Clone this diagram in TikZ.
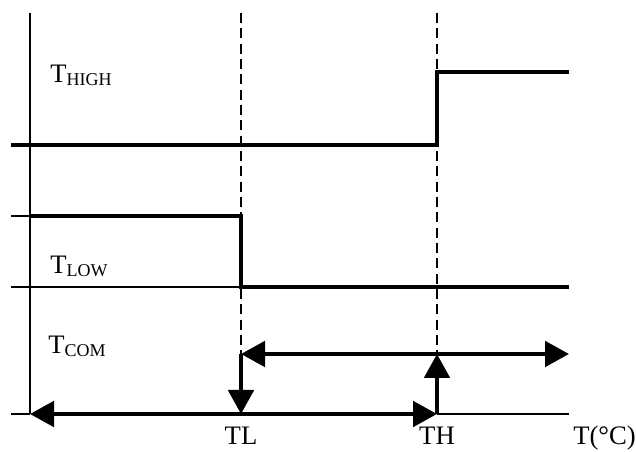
\documentclass[tikz,border=0pt]{standalone}
\usepackage{fontspec}
\setmainfont{Liberation Serif}
\usetikzlibrary{arrows.meta,calc}

\tikzset{
  level/.style={line width=3pt, line join=miter},
  guide/.style={line width=0.9pt},
  marker/.style={line width=0.9pt, dash pattern=on 7.5pt off 4pt},
  flow/.style={line width=3pt, -{Triangle[length=18pt,width=19pt]}},
  twoway/.style={line width=3pt, {Triangle[length=18pt,width=19pt]}-{Triangle[length=18pt,width=19pt]}},
  lbl/.style={font=\fontsize{20}{24}\selectfont, inner sep=0pt}
}
\newcommand{\subtxt}[1]{\raisebox{-2pt}{\fontsize{13.5}{14}\selectfont #1}}

\begin{document}
\begin{tikzpicture}[x=0.75pt,y=-0.75pt]
\useasboundingbox (0,0) rectangle (636,452);

% axis and reference lines
\coordinate (top) at (30,13);
\coordinate (org) at (30,414);
\coordinate (tick) at (11,414);
\coordinate (end) at (569,414);
\coordinate (tlTop) at (241,13);
\coordinate (thTop) at (437,13);
\coordinate (tlCom) at (241,354);
\coordinate (thCom) at (437,354);
\coordinate (comEnd) at (569,354);
\coordinate (tlBot) at (241,414);
\coordinate (thBot) at (437,414);

\draw[guide] (top) -- (org);
\draw[guide] (tick) -- (org);
\draw[guide] (thBot) -- (end);
\draw[guide] (11,216) -- (30,216);
\draw[guide] (11,287) -- (tlBot |- 0,287);

% threshold markers
\draw[marker] (tlTop) -- (tlCom);
\draw[marker] (thTop) -- (thCom);

% T_HIGH
\draw[level] (11,145) -- (437,145) -- (437,72) -- (569,72);
% T_LOW
\draw[level] (30,216) -- (241,216) -- (241,287) -- (569,287);

% T_COM
\draw[twoway] (tlCom) -- (comEnd);
\draw[flow] (tlCom) -- (tlBot);
\draw[twoway] (org) -- (thBot);
\draw[flow] (thBot) -- (thCom);

% labels
\node[lbl, anchor=base west] (high) at (50,83) {T\subtxt{HIGH}};
\node[lbl, anchor=base west] (low) at (50,274) {T\subtxt{LOW}};
\node[lbl, anchor=base west] (com) at (48,354) {T\subtxt{COM}};
\node[lbl, anchor=base] (tl) at (241,445) {TL};
\node[lbl, anchor=base] (th) at (437,445) {TH};
\node[lbl, anchor=base west] (unit) at (573,445) {T(°C)};
\end{tikzpicture}
\end{document}
